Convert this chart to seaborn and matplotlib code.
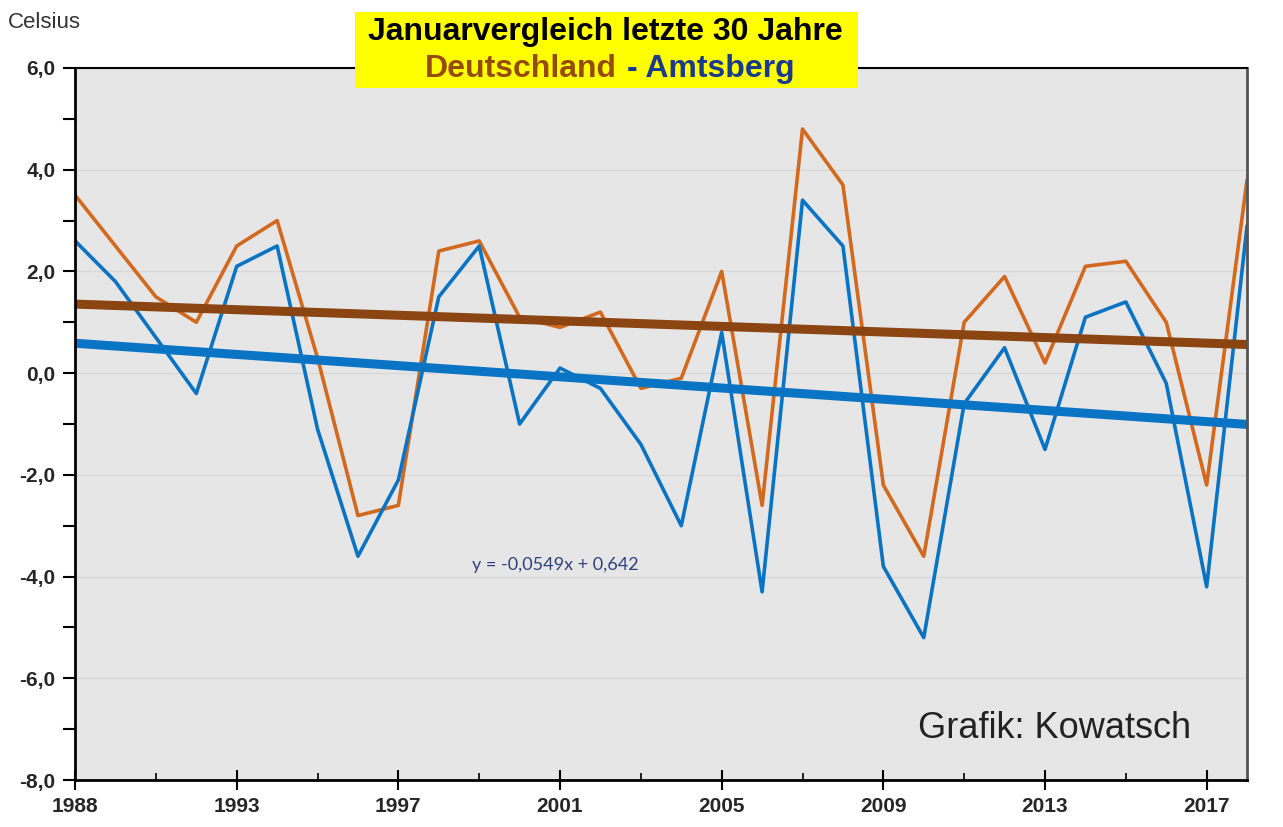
import matplotlib
import matplotlib.pyplot as plt
import pandas as pd
import seaborn as sns
from matplotlib.patches import Rectangle

# Use 'Agg' for non-interactive environments
matplotlib.use("Agg")

# ---------------------------------------------------------------------------
# Data (January mean temperatures)
# ---------------------------------------------------------------------------
years = list(range(1989, 2019))
deutschland = [3.5, 2.5, 1.5, 1.0, 2.5, 3.0, 0.3, -2.8, -2.6, 2.4,
               2.6, 1.1, 0.9, 1.2, -0.3, -0.1, 2.0, -2.6, 4.8, 3.7,
               -2.2, -3.6, 1.0, 1.9, 0.2, 2.1, 2.2, 1.0, -2.2, 3.8]
amtsberg = [2.6, 1.8, 0.7, -0.4, 2.1, 2.5, -1.1, -3.6, -2.1, 1.5,
            2.5, -1.0, 0.1, -0.3, -1.4, -3.0, 0.8, -4.3, 3.4, 2.5,
            -3.8, -5.2, -0.6, 0.5, -1.5, 1.1, 1.4, -0.2, -4.2, 2.9]

x_tick_years = years[::4]
x_tick_labels = ["1988", "1993", "1997", "2001", "2005", "2009", "2013", "2017"]
x_minor_years = years[2::4]
y_ticks = [6, 4, 2, 0, -2, -4, -6, -8]
y_minor = [5, 3, 1, -1, -3, -5, -7]

equation = "y = -0,0549x + 0,642"

ORANGE = "#d2691e"
BLUE = "#0a74c4"
BROWN = "#8b4513"

df = pd.DataFrame({"Jahr": years, "Deutschland": deutschland, "Amtsberg": amtsberg})

# ---------------------------------------------------------------------------
# Plot
# ---------------------------------------------------------------------------
sns.set_theme(style="white")
plt.rcParams["font.family"] = ["Liberation Sans", "DejaVu Sans"]

fig = plt.figure(figsize=(12.83, 8.27), dpi=100)
ax = fig.add_axes([0.0585, 0.0568, 0.9135, 0.861])
ax.set_facecolor("#e6e6e6")

sns.lineplot(data=df, x="Jahr", y="Deutschland", color=ORANGE, lw=2.6, ax=ax)
sns.lineplot(data=df, x="Jahr", y="Amtsberg", color=BLUE, lw=2.6, ax=ax)

# linear trends
sns.regplot(data=df, x="Jahr", y="Deutschland", scatter=False, ci=None,
            color=BROWN, line_kws=dict(lw=6.5), ax=ax)
sns.regplot(data=df, x="Jahr", y="Amtsberg", scatter=False, ci=None,
            color=BLUE, line_kws=dict(lw=6.5), ax=ax)

ax.set_xlim(years[0], years[-1])
ax.set_ylim(-8, 6)
ax.set_xlabel("")
ax.set_ylabel("")

ax.set_yticks(y_ticks)
ax.set_yticklabels([f"{v:.1f}".replace(".", ",") for v in y_ticks],
                   fontweight="bold", fontsize=15)
ax.set_yticks(y_minor, minor=True)
ax.tick_params(axis="y", which="both", direction="out", length=9, width=1.5,
               color="black", pad=5, left=True)

ax.set_xticks(x_tick_years)
ax.set_xticklabels(x_tick_labels, fontweight="bold", fontsize=15)
ax.set_xticks(x_minor_years, minor=True)
ax.tick_params(axis="x", which="major", direction="inout", length=14, width=1.5,
               color="black", pad=5, bottom=True)
ax.tick_params(axis="x", which="minor", direction="in", length=5, width=1.2,
               color="black", bottom=True)

ax.yaxis.grid(True, color="#d8d8d8", lw=1)
ax.xaxis.grid(False)
ax.set_axisbelow(True)

for side in ["left", "bottom"]:
    ax.spines[side].set_color("black")
    ax.spines[side].set_linewidth(2)
ax.spines["top"].set_color("black")
ax.spines["top"].set_linewidth(1.5)
ax.spines["right"].set_color("#555555")
ax.spines["right"].set_linewidth(2)

# title box
fig.add_artist(Rectangle((355 / 1283, 1 - 88 / 827), 503 / 1283, 76 / 827,
                         transform=fig.transFigure, facecolor="#ffff00",
                         edgecolor="none", zorder=3))
fig.text(0.4716, 1 - 32 / 827, "Januarvergleich letzte 30 Jahre", ha="center", va="center",
         fontsize=23, fontweight="bold", color="black", zorder=4)
fig.text(617 / 1283, 1 - 69 / 827, "Deutschland", ha="right", va="center",
         fontsize=23, fontweight="bold", color="#964b0a", zorder=4)
fig.text(627 / 1283, 1 - 69 / 827, "- Amtsberg", ha="left", va="center",
         fontsize=23, fontweight="bold", color="#1a3a8c", zorder=4)

fig.text(8 / 1283, 1 - 22 / 827, "Celsius", ha="left", va="center",
         fontsize=16, color="#333333")
fig.text(555 / 1283, 1 - 565 / 827, equation, ha="center", va="center",
         fontsize=13, color="#2f3f7f", family=["Lato", "DejaVu Sans"])
fig.text(918 / 1283, 1 - 729 / 827, "Grafik: Kowatsch", ha="left", va="center",
         fontsize=26, color="#222222")

fig.savefig("out.png", dpi=100)
plt.close(fig)
